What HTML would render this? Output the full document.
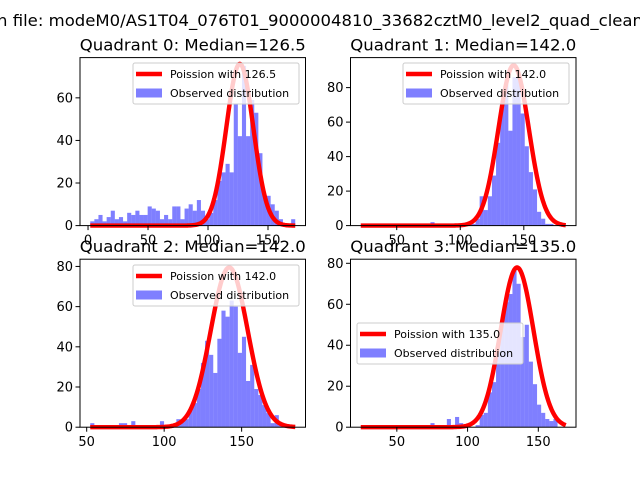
<!DOCTYPE html>
<html><head><meta charset="utf-8"><style>
html,body{margin:0;padding:0;background:#fff;}
svg{display:block;font-family:"DejaVu Sans","Liberation Sans",sans-serif;}
</style></head><body>
<svg id="fig" width="640" height="480" viewBox="0 0 640 480" xmlns="http://www.w3.org/2000/svg">
<rect width="640" height="480" fill="#fff"/>
<text x="-3" y="26" font-size="16" textLength="646" lengthAdjust="spacingAndGlyphs">n file: modeM0/AS1T04_076T01_9000004810_33682cztM0_level2_quad_clean</text>
</svg>
<script>
// Quadrant data (bin counts, 50 bins each)
const quadMedians = [126.5, 142.0, 142.0, 135.0];
const curvePeaks = [76, 93, 79.5, 78];
const dataMin = [1.85, 21.7, 52.3, 24.5];
const dataMax = [172.7, 183.0, 184.6, 169.4];
const yTicks0 = [0, 20, 40, 60];
const yTicks1 = [0, 20, 40, 60, 80];
const yTicks2 = [0, 20, 40, 60, 80];
const yTicks3 = [0, 20, 40, 60, 80];
const xTicks0 = [0, 50, 100, 150];
const xTicks1 = [50, 100, 150];
const xTicks2 = [50, 100, 150];
const xTicks3 = [50, 100, 150];
const counts0 = [2,3,5,2,4,7,3,4,2,6,5,7,5,5,9,8,7,3,5,3,9,9,3,8,10,7,12,7,3,6,12,21,25,29,25,57,42,75,42,59,53,34,14,14,10,7,3,1,1,3];
const counts1 = [0,0,0,0,0,0,0,0,0,0,0,0,0,0,0,0,0,2,0,0,0,0,0,0,0,0,0,1,4,17,9,17,29,48,70,82,55,86,86,65,46,31,21,8,4,1,1,0,0,0];
const counts2 = [2,0,0,0,0,0,0,2,2,0,3,0,0,0,0,0,0,3,0,0,0,4,3,4,9,12,19,32,43,36,27,44,58,55,63,60,37,45,23,31,19,16,11,7,2,6,2,0,0,0];
const counts3 = [0,0,0,0,0,0,0,0,0,0,0,0,0,0,0,0,0,2,0,0,0,4,0,5,2,0,0,0,1,6,7,17,22,37,50,61,65,77,70,44,50,32,21,11,7,4,3,4,0,0];

const panels = [
 {x0:80, x1:305.5, y0:57.6, y1:225.6, ymax:78.9, counts:counts0, yt:yTicks0, xt:xTicks0, leg:[133,63]},
 {x0:350.5, x1:576, y0:57.6, y1:225.6, ymax:97.4, counts:counts1, yt:yTicks1, xt:xTicks1, leg:[403,63]},
 {x0:80, x1:305.5, y0:259.2, y1:427.2, ymax:83.6, counts:counts2, yt:yTicks2, xt:xTicks2, leg:[133,265]},
 {x0:350.5, x1:576, y0:259.2, y1:427.2, ymax:82, counts:counts3, yt:yTicks3, xt:xTicks3, leg:[357,323]}
];
const NS = 'http://www.w3.org/2000/svg';
const fig = document.getElementById('fig');
function mk(tag, attrs, parent){ const e=document.createElementNS(NS,tag); for(const k in attrs) e.setAttribute(k,attrs[k]); (parent||fig).appendChild(e); return e; }

panels.forEach((p, q) => {
  const lo = dataMin[q], hi = dataMax[q], m = (hi-lo)*0.05;
  const vx0 = lo-m, vx1 = hi+m;
  const sx = v => p.x0 + (v-vx0)/(vx1-vx0)*(p.x1-p.x0);
  const sy = v => p.y1 - v/p.ymax*(p.y1-p.y0);
  const g = mk('g', {});
  
  
  const bw = (hi-lo)/p.counts.length;
  p.counts.forEach((c, i) => {
    if (c <= 0) return;
    const a = sx(lo+i*bw), b = sx(lo+(i+1)*bw);
    const r = mk('rect', {x:a, y:sy(c), width:b-a, height:sy(0)-sy(c), fill:'#0000ff', 'fill-opacity':0.5}, g);
    
    
  });
  // Poisson (normal approx) curve
  const mu = quadMedians[q], sd = Math.sqrt(mu);
  let d = '';
  for (let k=0; k<=200; k++){
    const x = lo + (hi-lo)*k/200;
    const y = curvePeaks[q]*Math.exp(-(x-mu)*(x-mu)/(2*sd*sd));
    d += (k?'L':'M') + sx(x).toFixed(2) + ',' + sy(y).toFixed(2);
  }
  const ln = mk('path', {d:d, fill:'none', stroke:'#ff0000', 'stroke-width':4.4, 'stroke-linejoin':'round'}, g);
  
  
  // frame
  const fr = mk('rect', {x:p.x0, y:p.y0, width:p.x1-p.x0, height:p.y1-p.y0, fill:'none', stroke:'#000', 'stroke-width':1}, g);
  
  
  // y ticks
  p.yt.forEach(v => {
    const y = sy(v);
    mk('line', {x1:p.x0-4.5, x2:p.x0, y1:y, y2:y, stroke:'#000'}, g);
    const t = mk('text', {x:p.x0-7, y:y+4.5, 'font-size':13, 'text-anchor':'end'}, g);
    t.textContent = v;
    
    
  });
  p.xt.forEach(v => {
    const x = sx(v);
    mk('line', {x1:x, x2:x, y1:p.y1, y2:p.y1+4.5, stroke:'#000'}, g);
    const t = mk('text', {x:x, y:p.y1+19, 'font-size':13, 'text-anchor':'middle'}, g);
    t.textContent = v;
    
    
  });
  // title
  const tt = mk('text', {x:(p.x0+p.x1)/2, y:p.y0-7, 'font-size':16, 'text-anchor':'middle', textLength:226, lengthAdjust:'spacingAndGlyphs'}, g);
  tt.textContent = 'Quadrant '+q+': Median='+mu.toFixed(1);
  
  
  // legend
  const [lx, ly] = p.leg;
  const lg = mk('g', {}, g);
  
  
  mk('rect', {x:lx, y:ly, width:166, height:41, rx:2, fill:'#fff', 'fill-opacity':0.8, stroke:'#cccccc', 'stroke-width':1}, lg);
  mk('line', {x1:lx+3, x2:lx+29, y1:ly+11, y2:ly+11, stroke:'#ff0000', 'stroke-width':4.4}, lg);
  mk('rect', {x:lx+3, y:ly+25.5, width:26, height:9, fill:'#0000ff', 'fill-opacity':0.5}, lg);
  const t1 = mk('text', {x:lx+37, y:ly+15, 'font-size':11}, lg);
  t1.textContent = 'Poission with '+mu.toFixed(1);
  
  
  const t2 = mk('text', {x:lx+37, y:ly+34, 'font-size':11}, lg);
  t2.textContent = 'Observed distribution';
  
  
});
</script>
</body></html>
